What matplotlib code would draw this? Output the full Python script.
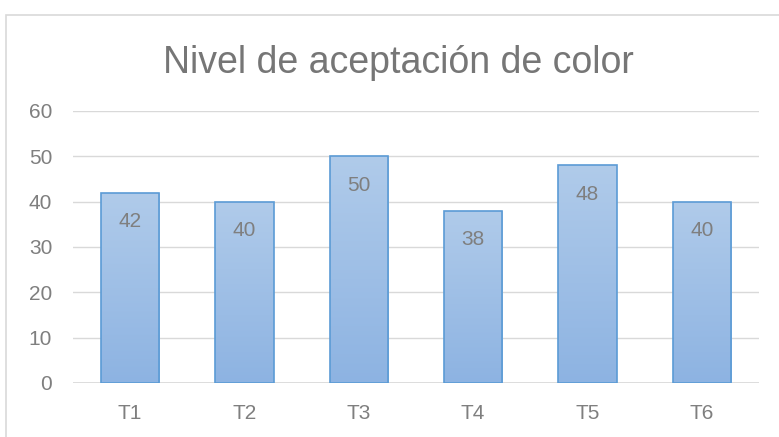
import matplotlib.pyplot as plt
import numpy as np
from matplotlib.colors import LinearSegmentedColormap
from matplotlib.patches import Rectangle

categorias = ['T1', 'T2', 'T3', 'T4', 'T5', 'T6']
valores = [42, 40, 50, 38, 48, 40]
titulo = 'Nivel de aceptación de color'

plt.rcParams['font.family'] = ['Liberation Sans', 'DejaVu Sans']

fig = plt.figure(figsize=(7.79, 4.37), dpi=100)
# marco gris del gráfico
fig.patches.append(Rectangle((6 / 779, -0.05), 1.0, 1 - 15 / 437 + 0.05,
                             transform=fig.transFigure, fill=False,
                             edgecolor='#d9d9d9', linewidth=1.2))

ax = fig.add_axes([73 / 779, 1 - 383 / 437, 686 / 779, 272 / 437])

x = np.arange(len(categorias))
ancho = 0.51
cmap = LinearSegmentedColormap.from_list('azul', ['#8db3e2', '#b0cbea'])
grad = np.linspace(0, 1, 256).reshape(-1, 1)

barras = ax.bar(x, valores, width=ancho, color='none', edgecolor='#5b9bd5',
                linewidth=1.2, zorder=3)
for b in barras:
    x0, w, h = b.get_x(), b.get_width(), b.get_height()
    im = ax.imshow(grad, cmap=cmap, origin='lower', aspect='auto',
                   extent=(x0, x0 + w, 0, h), zorder=2)
    im.set_clip_path(b)

# etiquetas de valor dentro de la barra
for xi, v in zip(x, valores):
    ax.annotate(str(v), (xi, v), xytext=(0, -21), textcoords='offset points',
                ha='center', va='center', fontsize=15, color='#7f7f7f',
                zorder=4)

ax.set_xlim(-0.5, len(categorias) - 0.5)
ax.set_ylim(0, 60)
ax.set_yticks(range(0, 61, 10))
ax.set_xticks(x)
ax.set_xticklabels(categorias)
ax.tick_params(axis='both', length=0, labelsize=15, colors='#7f7f7f')
ax.tick_params(axis='x', pad=15)
ax.tick_params(axis='y', pad=15)
ax.grid(axis='y', color='#d9d9d9', linewidth=1.0, zorder=0)
for s in ax.spines.values():
    s.set_visible(False)
ax.axhline(0, color='#d9d9d9', linewidth=1.2, zorder=1)

fig.text(398 / 779, 1 - 63 / 437, titulo, ha='center', va='center',
         fontsize=27, color='#767676')

fig.savefig('out.png', dpi=100)
